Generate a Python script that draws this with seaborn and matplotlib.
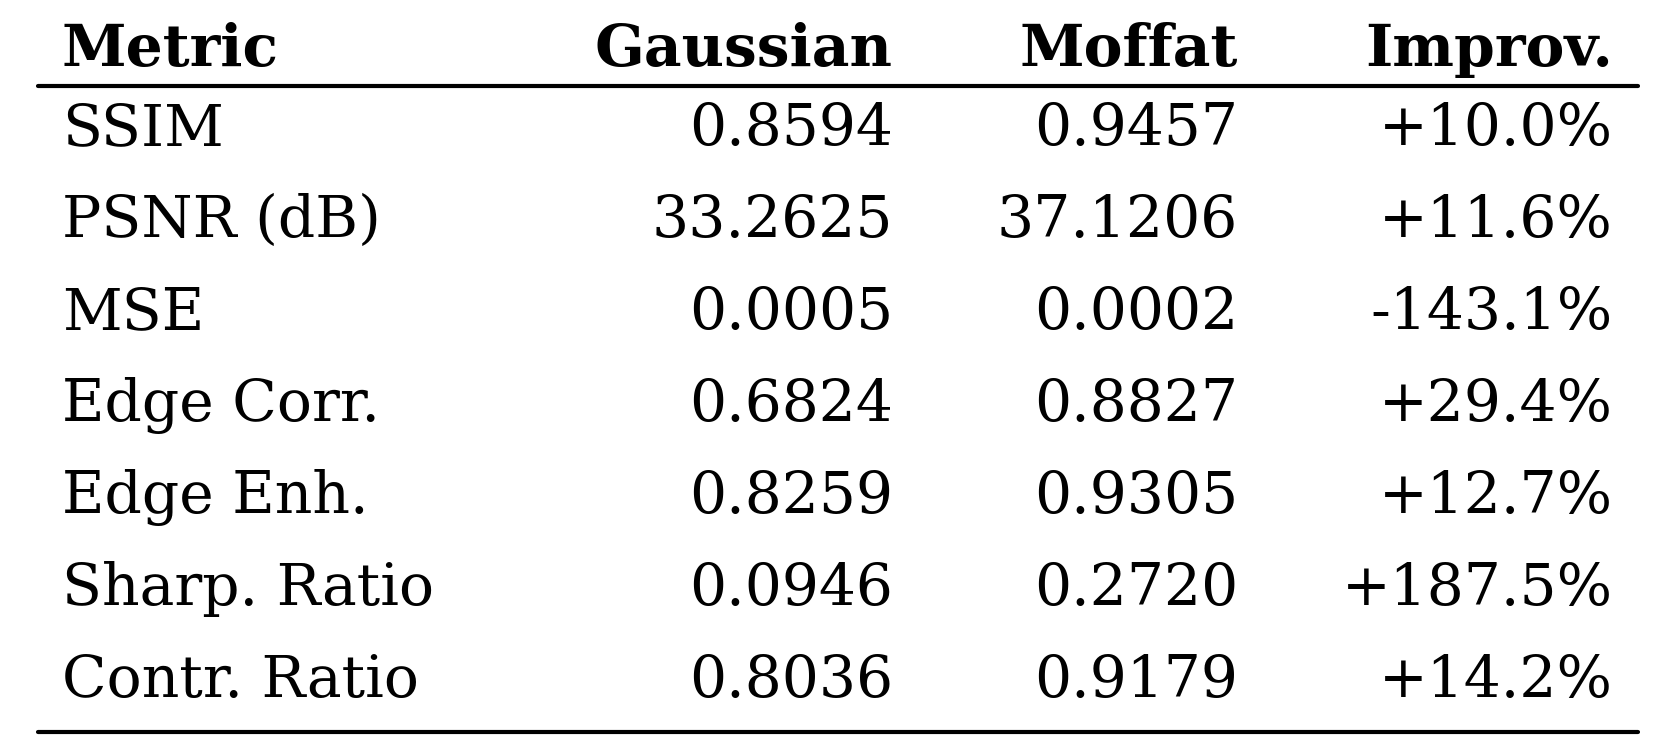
import matplotlib
matplotlib.use("Agg")
import matplotlib.pyplot as plt
import seaborn as sns

# table data
columns = ["Metric", "Gaussian", "Moffat", "Improv."]
metrics = ["SSIM", "PSNR (dB)", "MSE", "Edge Corr.", "Edge Enh.", "Sharp. Ratio", "Contr. Ratio"]
gaussian = ["0.8594", "33.2625", "0.0005", "0.6824", "0.8259", "0.0946", "0.8036"]
moffat = ["0.9457", "37.1206", "0.0002", "0.8827", "0.9305", "0.2720", "0.9179"]
improv = ["+10.0%", "+11.6%", "-143.1%", "+29.4%", "+12.7%", "+187.5%", "+14.2%"]

sns.set_theme(style="white")
plt.rcParams['font.family'] = ['DejaVu Serif']

fig = plt.figure(figsize=(16.73, 7.51), dpi=100)
ax = fig.add_axes([0, 0, 1, 1])
ax.set_xlim(0, 1673)
ax.set_ylim(751, 0)
ax.axis("off")

fs = 42
col_x = [62, 893, 1238, 1613]
col_ha = ["left", "right", "right", "right"]

for x, ha, name in zip(col_x, col_ha, columns):
    ax.text(x, 50, name, ha=ha, va="center", fontsize=fs, fontweight="bold", color="black")

ax.plot([38, 1638], [86, 86], color="black", lw=3)
ax.plot([38, 1638], [732, 732], color="black", lw=3)

for i, row in enumerate(zip(metrics, gaussian, moffat, improv)):
    y = 129 + i * 92
    for x, ha, val in zip(col_x, col_ha, row):
        ax.text(x, y, val, ha=ha, va="center", fontsize=fs, color="black")

fig.savefig("out.png", dpi=100, facecolor="white")
